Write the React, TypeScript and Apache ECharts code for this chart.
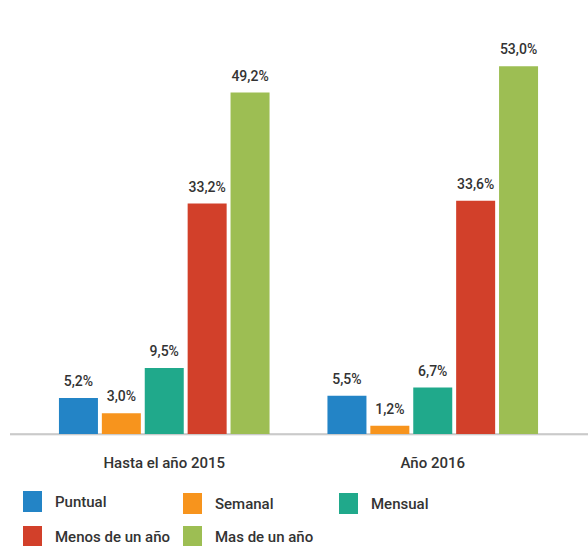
import React, { useEffect, useRef } from "react";
import * as echarts from "echarts";

const categories = ["Hasta el año 2015", "Año 2016"];
const seriesNames = ["Puntual", "Semanal", "Mensual", "Menos de un año", "Mas de un año"];
const puntual = [5.2, 5.5];
const semanal = [3.0, 1.2];
const mensual = [9.5, 6.7];
const menosDeUnAno = [33.2, 33.6];
const masDeUnAno = [49.2, 53.0];
const seriesValues = [puntual, semanal, mensual, menosDeUnAno, masDeUnAno];
const colors = ["#2384c6", "#f7941d", "#20a98b", "#d2402a", "#9dbe53"];

const legendPos = [
  { left: 23, top: 491 },
  { left: 183, top: 493 },
  { left: 339, top: 493 },
  { left: 23, top: 526 },
  { left: 183, top: 526 },
];

const FONT = "Roboto, 'DejaVu Sans', sans-serif";

export default function App() {
  const ref = useRef<HTMLDivElement>(null);
  useEffect(() => {
    document.body.style.margin = "0";
    if (!ref.current) return;
    const chart = echarts.init(ref.current, null, { renderer: "svg" });
    const fmt = (v: number) => v.toFixed(1).replace(".", ",") + "%";
    chart.setOption({
      animation: false,
      grid: { left: 30, right: 21, top: 17.6, bottom: 112, containLabel: false },
      legend: seriesNames.map((n, i) => ({
        data: [n],
        left: legendPos[i].left,
        top: legendPos[i].top,
        padding: 0,
        icon: "rect",
        itemWidth: 19,
        itemHeight: 21,
        selectedMode: false,
        textStyle: {
          fontSize: 15,
          fontWeight: 500,
          color: "#333",
          fontFamily: FONT,
          padding: [0, 0, 0, 8],
        },
      })),
      xAxis: {
        type: "category",
        data: categories,
        axisLine: { show: false },
        axisTick: { show: false },
        axisLabel: { fontSize: 15, fontWeight: 500, color: "#333", margin: 21, fontFamily: FONT },
      },
      yAxis: {
        type: "value",
        min: 0,
        max: 60,
        show: false,
        splitLine: { show: false },
      },
      graphic: [
        {
          type: "line",
          shape: { x1: 10, y1: 435, x2: 588, y2: 435 },
          style: { stroke: "#dddddd", lineWidth: 1 },
        },
        {
          type: "line",
          shape: { x1: 10, y1: 434, x2: 588, y2: 434 },
          style: { stroke: "#a6a6a6", lineWidth: 1.2 },
        },
      ],
      series: seriesNames.map((n, i) => ({
        name: n,
        type: "bar",
        data: seriesValues[i],
        barWidth: 39,
        barGap: "10%",
        itemStyle: { color: colors[i] },
        label: {
          show: true,
          position: "top",
          distance: 10,
          fontSize: 14,
          fontWeight: 500,
          color: "#333",
          fontFamily: FONT,
          formatter: (p: any) => fmt(p.value),
        },
      })),
    });
    return () => chart.dispose();
  }, []);
  return <div ref={ref} style={{ width: 588, height: 546 }} />;
}
